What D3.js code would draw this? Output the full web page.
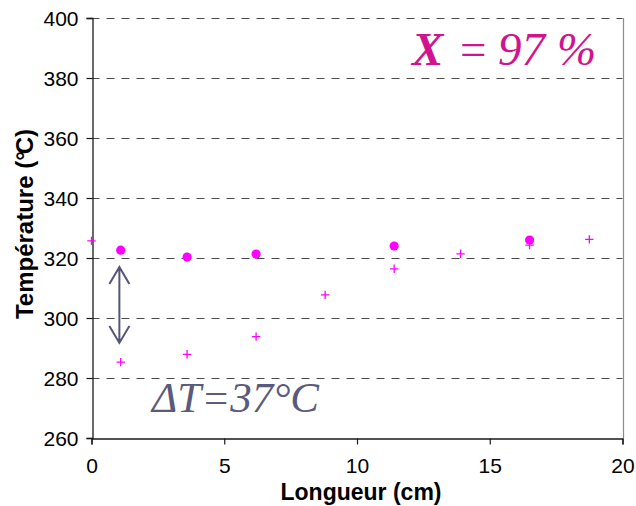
<!DOCTYPE html>
<html>
<head>
<meta charset="utf-8">
<script src="https://cdn.jsdelivr.net/npm/d3@7"></script>
<style>
  html, body { margin: 0; padding: 0; background: #fff; }
  svg { display: block; }
</style>
</head>
<body>
<svg id="chart" width="636" height="506"></svg>
<script>
// Wall temperature along the tube (circles) and fluid temperature (crosses)
const wallLength = [1.1, 3.6, 6.2, 11.4, 16.5];
const wallTemp   = [322.6, 320.3, 321.3, 324.0, 326.0];
const fluidLength = [0, 1.1, 3.6, 6.2, 8.8, 11.4, 13.9, 16.5, 18.75];
const fluidTemp   = [325.7, 285.3, 287.9, 293.8, 307.7, 316.4, 321.4, 324.3, 326.2];
const xTicks = [0, 5, 10, 15, 20];
const yTicks = [260, 280, 300, 320, 340, 360, 380, 400];
const deltaEnds = [317, 291.7];   // span of the ΔT arrow at x = 1.1 cm
const deltaX = 1.05;

const margin = { left: 91.5, right: 622.5, top: 18, bottom: 438 };
const svg = d3.select("#chart");

const x = d3.scaleLinear().domain([0, 20]).range([margin.left, margin.right]);
const y = d3.scaleLinear().domain([260, 400]).range([margin.bottom, margin.top]);

const magenta = "#ff00ff";

// dashed horizontal grid
svg.append("g")
  .selectAll("line")
  .data(yTicks.filter(d => d > 260))
  .join("line")
  .attr("x1", margin.left).attr("x2", margin.right)
  .attr("y1", d => Math.round(y(d)) + 0.5)
  .attr("y2", d => Math.round(y(d)) + 0.5)
  .attr("stroke", "#4a4a4a")
  .attr("stroke-width", 1)
  .attr("stroke-dasharray", "8,7");

// right border of the plot area
svg.append("line")
  .attr("x1", Math.round(x(20)) + 0.5).attr("x2", Math.round(x(20)) + 0.5)
  .attr("y1", margin.top).attr("y2", margin.bottom)
  .attr("stroke", "#8c8c8c").attr("stroke-width", 1.2);

// axes
const yAxis = svg.append("g")
  .attr("transform", `translate(${Math.round(margin.left) + 0.5},0)`)
  .call(d3.axisLeft(y).tickValues(yTicks).tickSize(6).tickPadding(8).tickFormat(d3.format("d")));
const xAxis = svg.append("g")
  .attr("transform", `translate(0,${Math.round(margin.bottom) + 0.5})`)
  .call(d3.axisBottom(x).tickValues(xTicks).tickSize(6).tickPadding(14).tickFormat(d3.format("d")));

[yAxis, xAxis].forEach(g => {
  g.select(".domain").attr("stroke", "#1a1a1a").attr("stroke-width", 1.3);
  g.selectAll(".tick line").attr("stroke", "#1a1a1a").attr("stroke-width", 1.2);
  g.selectAll(".tick text")
    .attr("fill", "#000")
    .style("font-family", "Liberation Sans, Arial, sans-serif")
    .style("font-size", "21px");
});
yAxis.selectAll(".tick text").attr("dy", "0.36em");

// axis titles
svg.append("text")
  .attr("x", 361).attr("y", 500)
  .attr("text-anchor", "middle")
  .style("font-family", "Liberation Sans, Arial, sans-serif")
  .style("font-weight", "bold").style("font-size", "23px")
  .text("Longueur (cm)");

const yTitle = svg.append("text")
  .attr("transform", "translate(33,224) rotate(-90)")
  .attr("text-anchor", "middle")
  .style("font-family", "Liberation Sans, Arial, sans-serif")
  .style("font-weight", "bold").style("font-size", "24px");
yTitle.append("tspan").text("Température (");
yTitle.append("tspan").text("°");
yTitle.append("tspan").attr("dx", -3).text("C)");

// fluid temperature: crosses
const cross = 4.2;
const crosses = svg.append("g").attr("stroke", magenta).attr("stroke-width", 1.3);
crosses.selectAll("g")
  .data(fluidLength.map((l, i) => [l, fluidTemp[i]]))
  .join("path")
  .attr("d", d => {
    const cx = x(d[0]), cy = y(d[1]);
    return `M${cx - cross},${cy}H${cx + cross}M${cx},${cy - cross}V${cy + cross}`;
  });

// wall temperature: filled circles
svg.append("g")
  .selectAll("circle")
  .data(wallLength.map((l, i) => [l, wallTemp[i]]))
  .join("circle")
  .attr("cx", d => x(d[0]))
  .attr("cy", d => y(d[1]))
  .attr("r", 4.6)
  .attr("fill", magenta);

// double arrow marking the temperature gap
const arrowColor = "#55557a";
const ax = x(deltaX), aTop = y(deltaEnds[0]), aBot = y(deltaEnds[1]);
svg.append("path")
  .attr("d", `M${ax},${aTop}V${aBot}` +
             `M${ax - 10},${aTop + 17}L${ax},${aTop}L${ax + 10},${aTop + 17}` +
             `M${ax - 10},${aBot - 17}L${ax},${aBot}L${ax + 10},${aBot - 17}`)
  .attr("fill", "none")
  .attr("stroke", arrowColor)
  .attr("stroke-width", 2)
  .attr("stroke-linejoin", "miter");

svg.append("text")
  .attr("x", 152).attr("y", 412)
  .attr("fill", "#5a5a7c")
  .style("font-family", "Liberation Serif, Times New Roman, serif")
  .style("font-style", "italic").style("font-size", "43px")
  .text("ΔT=37°C");

// conversion label
const conv = svg.append("text")
  .attr("y", 65)
  .attr("fill", "#d0148f")
  .style("font-family", "Liberation Serif, Times New Roman, serif")
  .style("font-style", "italic").style("font-size", "47px");
conv.append("tspan").attr("x", 412).style("font-weight", "bold").text("X");
conv.append("tspan").attr("x", 457).text("=");
conv.append("tspan").attr("x", 498).text("97");
conv.append("tspan").attr("x", 557).text("%");
</script>
</body>
</html>
